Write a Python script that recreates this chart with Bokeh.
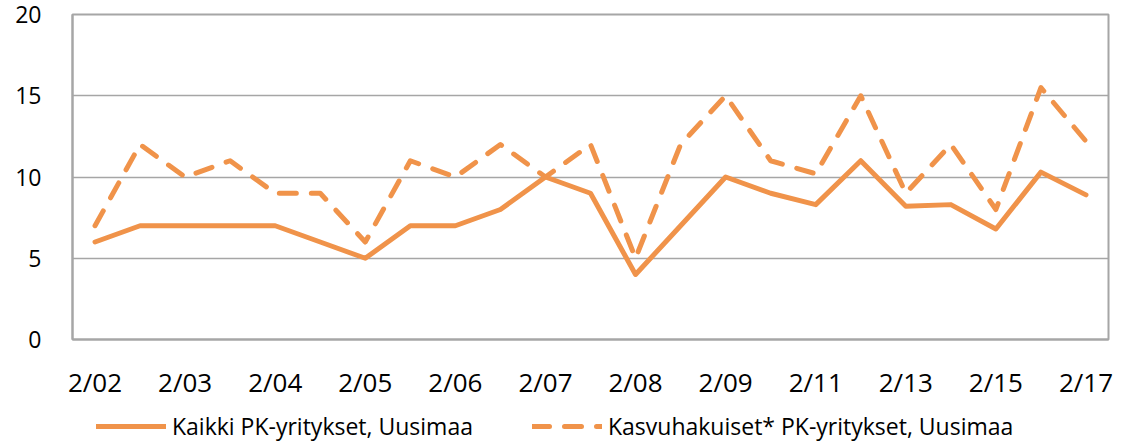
from bokeh.plotting import figure
from bokeh.layouts import column
from bokeh.models import ColumnDataSource, FixedTicker, Legend, LegendItem, Range1d
from bokeh.embed import file_html
from bokeh.resources import INLINE

periods = ["2/02", "1/03", "2/03", "1/04", "2/04", "1/05", "2/05", "1/06", "2/06", "1/07",
           "2/07", "1/08", "2/08", "1/09", "2/09", "2/10", "2/11", "2/12", "2/13", "2/14",
           "2/15", "2/16", "2/17"]
kaikki = [6, 7, 7, 7, 7, 6, 5, 7, 7, 8, 10, 9, 4, 7, 10, 9, 8.3, 11, 8.2, 8.3, 6.8, 10.3, 8.9]
kasvu = [7, 12, 10, 11, 9, 9, 6, 11, 10, 12, 10, 12, 5, 12, 15, 11, 10.2, 15, 9, 12, 8, 15.5, 12.2]
series_names = ["Kaikki PK-yritykset, Uusimaa", "Kasvuhakuiset* PK-yritykset, Uusimaa"]
y_ticks = [0, 5, 10, 15, 20]

label_ticks = [i for i in range(len(periods)) if i % 2 == 0]
label_text = {i: periods[i] for i in label_ticks}

ORANGE = "#F0934A"
GRAY = "#A6A6A6"
FONT = "Open Sans"
DASH = "17 15"

src = ColumnDataSource(data=dict(x=list(range(len(periods))), kaikki=kaikki, kasvu=kasvu))

p = figure(width=1127, height=402, output_backend="svg", toolbar_location=None,
           x_range=Range1d(-0.5, len(periods) - 0.5), y_range=Range1d(0, 20),
           min_border_left=72, min_border_right=19, min_border_top=14, min_border_bottom=63)

p.line("x", "kaikki", source=src, line_color=ORANGE, line_width=5,
       line_join="round", line_cap="round")
p.line("x", "kasvu", source=src, line_color=ORANGE, line_width=5,
       line_dash=DASH, line_join="round", line_cap="round")

p.outline_line_color = GRAY
p.outline_line_width = 2
p.xgrid.grid_line_color = None
p.ygrid.grid_line_color = GRAY
p.ygrid.grid_line_width = 1.5

p.yaxis.ticker = FixedTicker(ticks=y_ticks)
p.yaxis.axis_line_color = GRAY
p.yaxis.axis_line_width = 2
p.yaxis.major_tick_line_color = None
p.yaxis.minor_tick_line_color = None
p.yaxis.major_label_standoff = 25
p.yaxis.major_label_text_font = FONT
p.yaxis.major_label_text_font_size = "23px"
p.yaxis.major_label_text_color = "#000000"

p.xaxis.ticker = FixedTicker(ticks=label_ticks)
p.xaxis.major_label_overrides = label_text
p.xaxis.axis_line_color = GRAY
p.xaxis.axis_line_width = 2
p.xaxis.major_tick_line_color = None
p.xaxis.minor_tick_line_color = None
p.xaxis.major_label_standoff = 18
p.xaxis.major_label_text_font = FONT
p.xaxis.major_label_text_font_size = "26px"
p.xaxis.major_label_text_color = "#000000"

# legend strip below the chart (legend-only renderers hold a single NaN point)
lf = figure(width=1127, height=40, output_backend="svg", toolbar_location=None,
            x_range=Range1d(0, 1), y_range=Range1d(0, 1),
            x_axis_location=None, y_axis_location=None,
            min_border_left=0, min_border_right=0, min_border_top=0, min_border_bottom=0)
lf.grid.grid_line_color = None
lf.outline_line_color = None
dummy = ColumnDataSource(data=dict(x=[float("nan")], y=[float("nan")]))
l1 = lf.line("x", "y", source=dummy, line_color=ORANGE, line_width=5, line_cap="round")
l2 = lf.line("x", "y", source=dummy, line_color=ORANGE, line_width=5, line_cap="round",
             line_dash=DASH)

legend = Legend(items=[LegendItem(label=series_names[0], renderers=[l1]),
                       LegendItem(label=series_names[1], renderers=[l2])],
                orientation="horizontal", location=(24, 0))
legend.glyph_width = 70
legend.glyph_height = 24
legend.label_standoff = 6
legend.spacing = 59
legend.padding = 0
legend.margin = 0
legend.border_line_color = None
legend.background_fill_alpha = 0
legend.label_text_font = FONT
legend.label_text_font_size = "23px"
legend.label_text_color = "#000000"
lf.add_layout(legend, "center")

layout = column(p, lf, spacing=0)
open("out.html", "w").write(file_html(layout, INLINE))
